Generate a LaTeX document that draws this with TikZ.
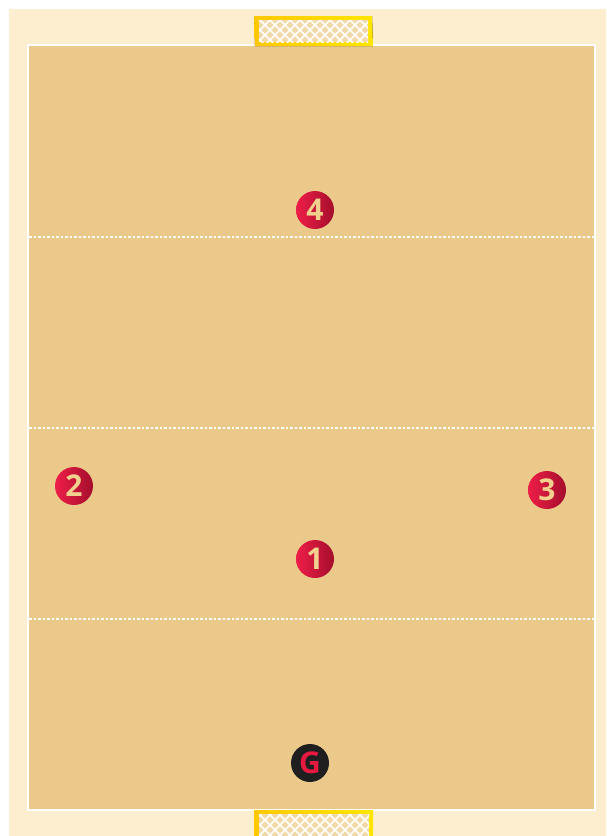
\documentclass[tikz,border=0pt]{standalone}
\usepackage{fontspec}
\setmainfont{Open Sans}
\usetikzlibrary{positioning}
\definecolor{sand}{HTML}{EBC98A}
\definecolor{cream}{HTML}{FDEED0}
\definecolor{netcream}{HTML}{F1D9A8}
\definecolor{redlight}{HTML}{EE1E48}
\definecolor{reddark}{HTML}{A50E2C}
\definecolor{numtan}{HTML}{F2D08E}
\definecolor{goalyellow}{HTML}{FFC800}
\definecolor{goallight}{HTML}{FFE600}
\definecolor{gred}{HTML}{E8193F}

\begin{document}
\begin{tikzpicture}[
  x=1pt, y=-1pt,
  font=\bfseries\fontsize{30}{30}\selectfont,
  player/.style={circle, inner sep=0pt, minimum size=38pt,
                 left color=redlight, right color=reddark, text=numtan},
  keeper/.style={circle, inner sep=0pt, minimum size=38pt,
                 fill=black!88, text=gred},
  zone/.style={white, line width=1.2pt, dash pattern=on 2.5pt off 2pt},
  frame/.style={left color=goalyellow, right color=goallight},
  mesh/.style={white, line width=1.6pt}
]
\useasboundingbox (0,0) rectangle (606,836);
\fill[white] (0,0) rectangle (606,836);
\fill[cream] (9,9) rectangle (606,836);
\fill[sand] (28,45) rectangle (595,810);
\draw[white, line width=2pt] (28,45) rectangle (595,810);

% goals
\fill[frame] (254,16) -- (372,16) -- (373,46) -- (255,46) -- cycle;
\fill[netcream] (259,20) rectangle (368,42);
\begin{scope}
  \clip (259,20) rectangle (368,42);
  \foreach \i in {0,...,16}
    \draw[mesh] (225+10*\i,15) -- +(30,30) (225+10*\i,45) -- +(30,-30);
\end{scope}
\fill[frame] (254,810) -- (373,810) -- (373,836) -- (254,836) -- cycle;
\fill[netcream] (259,814) rectangle (369,836);
\begin{scope}
  \clip (259,814) rectangle (369,836);
  \foreach \i in {0,...,16}
    \draw[mesh] (225+10*\i,810) -- +(30,30) (225+10*\i,840) -- +(30,-30);
\end{scope}

% zones
\foreach \yy in {237,428,619}
  \draw[zone] (29,\yy) -- (594,\yy);

% players
\node[player] (p4) at (315,210) {4};
\node[player] (p2) at (74,486) {2};
\node[player] (p3) at (547,490) {3};
\node[player] (p1) at (315,559) {1};
\node[keeper] (gk) at (310,763) {G};
\end{tikzpicture}
\end{document}
